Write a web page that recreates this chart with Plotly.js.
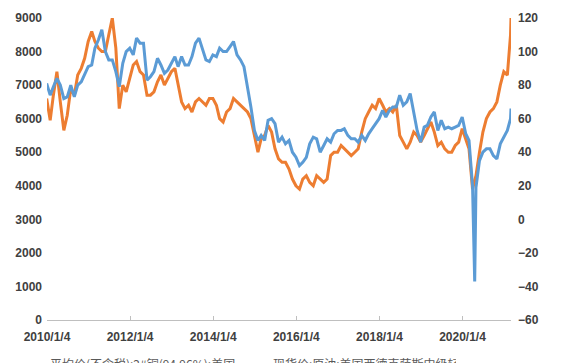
<!DOCTYPE html>
<html>
<head>
<meta charset="utf-8">
<script src="https://cdn.plot.ly/plotly-3.0.1.min.js"></script>
<style>html,body{margin:0;padding:0;background:#fff;}#chart{width:566px;height:363px;}</style>
</head>
<body>
<div id="chart"></div>
<script>
// Monthly observation dates (first of each month) 2010-01 .. 2021-03, plus final point
const startYear = 2010;
const monthCount = 135;
const endDate = '2021-03-05';

// Copper average price (left axis), one value per month, then final point
const copperValues = [
  6600, 5950, 6700, 7400, 6500, 5650, 6100, 6900, 6700, 7300, 7500, 7800,
  8300, 8600, 8300, 8100, 8000, 8000, 8500, 9000, 8100, 6300, 7000, 6800,
  7200, 7600, 7700, 7400, 7300, 6700, 6700, 6800, 7100, 7300, 7000, 7200,
  7400, 7500, 7000, 6500, 6300, 6400, 6200, 6500, 6600, 6500, 6400, 6600,
  6600, 6400, 6000, 5900, 6200, 6300, 6600, 6500, 6400, 6300, 6200, 6000,
  5500, 5000, 5400, 5500, 5800, 5600, 5100, 4800, 4700, 4700, 4500, 4200,
  4000, 3900, 4200, 4300, 4100, 4000, 4300, 4200, 4100, 4200, 4900, 5000,
  5000, 5200, 5100, 5000, 4900, 5000, 5100, 5600, 6000, 6200, 6400, 6300,
  6600, 6400, 6200, 6300, 6200, 6400, 5500, 5300, 5100, 5300, 5600, 5500,
  5300, 5500, 5700, 5900, 5600, 5200, 5300, 5100, 5000, 5000, 5200, 5300,
  5700, 5400, 5100, 3900, 4300, 5000, 5600, 6000, 6200, 6300, 6500, 7000,
  7400, 7300, 8500
];
const copperEnd = 9000;

// WTI spot price (right axis), one value per month, then final point
const wtiValues = [
  81, 74, 79, 84, 80, 72, 73, 80, 73, 80, 82, 86,
  91, 92, 102, 107, 113, 100, 95, 95, 88, 79, 93, 100,
  102, 98, 108, 105, 105, 83, 85, 88, 96, 92, 87, 89,
  93, 97, 91, 97, 92, 92, 97, 105, 108, 101, 95, 94,
  98, 97, 102, 100, 100, 103, 106, 98, 95, 91, 80, 67,
  53, 47, 50, 47, 59, 60, 57, 46, 49, 45, 47, 40,
  37, 32, 34, 37, 45, 49, 48, 40, 44, 48, 46, 51,
  53, 53, 54, 50, 48, 48, 46, 50, 47, 51, 54, 57,
  60, 65, 61, 65, 67, 67, 74, 68, 70, 75, 63, 53,
  46, 55, 56, 61, 64, 53, 59, 54, 55, 54, 55, 56,
  61, 51, 47, 20, 19, 35, 40, 42, 42, 38, 36, 45,
  49, 53, 60
];
const wtiEnd = 66;
// Extra daily point: the negative settlement in April 2020
const wtiSpikeDates = ['2020-04-20'];
const wtiSpikeValues = [-37];

const tickDates = ['2010-01-04','2012-01-04','2014-01-04','2016-01-04','2018-01-04','2020-01-04'];
const tickLabels = ['2010/1/4','2012/1/4','2014/1/4','2016/1/4','2018/1/4','2020/1/4'];

const seriesNames = ['平均价(不含税):2#铜(94.96%):美国', '现货价:原油:美国西德克萨斯中级轻质原油(WTI)'];

const months = [];
for (let i = 0; i < monthCount; i++) {
  const y = startYear + Math.floor(i / 12);
  const m = (i % 12) + 1;
  months.push(y + '-' + (m < 10 ? '0' + m : m) + '-01');
}
const cuX = months.concat([endDate]);
const cuY = copperValues.concat([copperEnd]);

let wX = months.concat([endDate]);
let wY = wtiValues.concat([wtiEnd]);
const pairs = wX.map((d, i) => [d, wY[i]]);
wtiSpikeDates.forEach((d, i) => pairs.push([d, wtiSpikeValues[i]]));
pairs.sort((a, b) => (a[0] < b[0] ? -1 : a[0] > b[0] ? 1 : 0));
wX = pairs.map(p => p[0]);
wY = pairs.map(p => p[1]);

const tickFont = {family: 'Liberation Sans, Arial, sans-serif', size: 12, color: '#404040', weight: 'bold'};

const traces = [
  {x: cuX, y: cuY, name: seriesNames[0], type: 'scatter', mode: 'lines',
   line: {color: '#ED7D31', width: 3}, yaxis: 'y'},
  {x: wX, y: wY, name: seriesNames[1], type: 'scatter', mode: 'lines',
   line: {color: '#5B9BD5', width: 3}, yaxis: 'y2'}
];

const layout = {
  width: 566, height: 363,
  margin: {l: 47, r: 55, t: 18, b: 43, autoexpand: false},
  paper_bgcolor: '#ffffff', plot_bgcolor: '#ffffff',
  showlegend: true,
  legend: {orientation: 'h', x: -0.08, xanchor: 'left', y: -0.1, yanchor: 'top',
           font: {family: 'Noto Sans CJK SC, sans-serif', size: 12, color: '#595959'},
           entrywidth: 178, itemwidth: 30, bgcolor: 'rgba(0,0,0,0)'},
  xaxis: {type: 'date', range: ['2010-01-04', endDate], tickmode: 'array',
          tickvals: tickDates, ticktext: tickLabels, tickfont: tickFont,
          showgrid: false, zeroline: false, showline: true, linecolor: '#bfbfbf', linewidth: 1,
          ticks: 'inside', ticklen: 4, tickcolor: '#bfbfbf', ticklabelstandoff: 6, fixedrange: true},
  yaxis: {range: [0, 9000], tickvals: [0,1000,2000,3000,4000,5000,6000,7000,8000,9000],
          tickfont: tickFont, showgrid: false, zeroline: false, showline: false,
          ticks: '', ticklabelstandoff: 4, fixedrange: true},
  yaxis2: {range: [-60, 120], tickvals: [-60,-40,-20,0,20,40,60,80,100,120],
           overlaying: 'y', side: 'right', tickfont: tickFont, showgrid: false,
           zeroline: false, showline: false, ticks: '', ticklabelstandoff: 6, fixedrange: true}
};

Plotly.newPlot('chart', traces, layout, {staticPlot: true, displayModeBar: false});
</script>
</body>
</html>
